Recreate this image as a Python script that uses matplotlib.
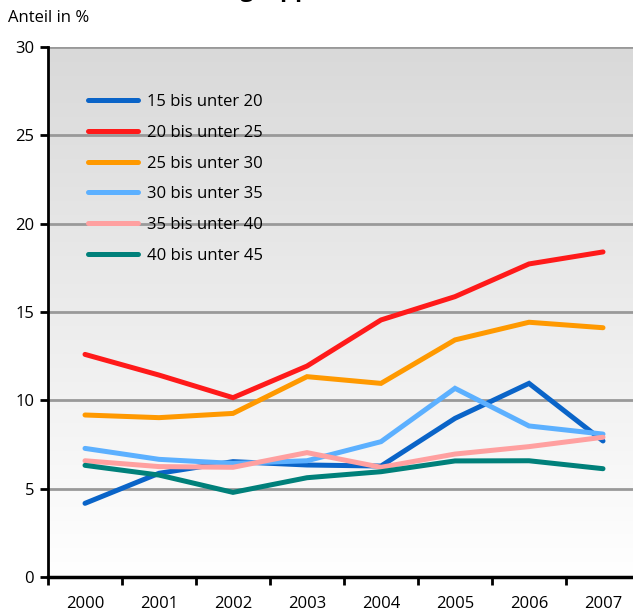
import numpy as np
import matplotlib.pyplot as plt

plt.rcParams['font.family'] = ['Open Sans', 'DejaVu Sans']

years = ['2000', '2001', '2002', '2003', '2004', '2005', '2006', '2007']
labels = ['15 bis unter 20', '20 bis unter 25', '25 bis unter 30',
          '30 bis unter 35', '35 bis unter 40', '40 bis unter 45']
age_15_20 = [4.17, 5.87, 6.53, 6.34, 6.28, 8.98, 10.96, 7.70]
age_20_25 = [12.60, 11.43, 10.15, 11.94, 14.55, 15.87, 17.72, 18.40]
age_25_30 = [9.17, 9.02, 9.26, 11.34, 10.96, 13.42, 14.42, 14.11]
age_30_35 = [7.28, 6.66, 6.43, 6.58, 7.66, 10.68, 8.55, 8.09]
age_35_40 = [6.58, 6.25, 6.21, 7.04, 6.21, 6.96, 7.38, 7.91]
age_40_45 = [6.32, 5.77, 4.79, 5.62, 5.96, 6.57, 6.58, 6.13]
series = [age_15_20, age_20_25, age_25_30, age_30_35, age_35_40, age_40_45]
colors = ['#0a64c8', '#ff1a1a', '#ff9900', '#5cb0ff', '#ffa0a0', '#00807a']

fig = plt.figure(figsize=(6.33, 6.14), dpi=100)
ax = fig.add_axes([48 / 633, 37 / 614, 592 / 633, 530 / 614])

# grey-to-white background gradient
grad = np.linspace(0, 1, 256).reshape(-1, 1)
ax.imshow(grad, cmap=plt.cm.colors.LinearSegmentedColormap.from_list('bg', ['#ffffff', '#d9d9d9']),
          extent=[-0.5, 7.5, 0, 30], aspect='auto', origin='lower', zorder=0)

x = np.arange(len(years))
for vals, lab, col in zip(series, labels, colors):
    ax.plot(x, vals, color=col, lw=3.6, label=lab, solid_capstyle='round',
            solid_joinstyle='miter', zorder=3)

ax.set_xlim(-0.5, 7.5)
ax.set_ylim(0, 30)
ax.set_yticks(range(0, 31, 5))
for yv in range(5, 31, 5):
    ax.axhline(yv, color='#999999', lw=2, zorder=1)

ax.set_xticks(np.arange(-0.5, 8, 1))
ax.set_xticklabels([])
ax.set_xticks(x, minor=True)
ax.set_xticklabels(years, minor=True, fontsize=12)
ax.tick_params(axis='x', which='minor', length=0, pad=14)
ax.tick_params(axis='x', which='major', length=6, width=2, direction='out')
ax.tick_params(axis='y', length=6, width=2, direction='out', labelsize=12, pad=4)

for s in ['top', 'right']:
    ax.spines[s].set_visible(False)
ax.spines['left'].set_linewidth(2)
ax.spines['bottom'].set_linewidth(2.5)

leg = ax.legend(loc='upper left', bbox_to_anchor=(0.0425, 0.939), frameon=False,
                fontsize=12, handlelength=3.0, handletextpad=0.55, labelspacing=0.88)

fig.text(8 / 633, 1 - 18 / 614, 'Anteil in %', fontsize=12, va='center', ha='left')
# title sits above the visible area, only its descenders show
fig.text(170 / 633, 1 + 4 / 614, 'Altersgruppen', fontsize=17, fontweight='bold',
         va='baseline', ha='left')

fig.savefig('out.png', dpi=100)
